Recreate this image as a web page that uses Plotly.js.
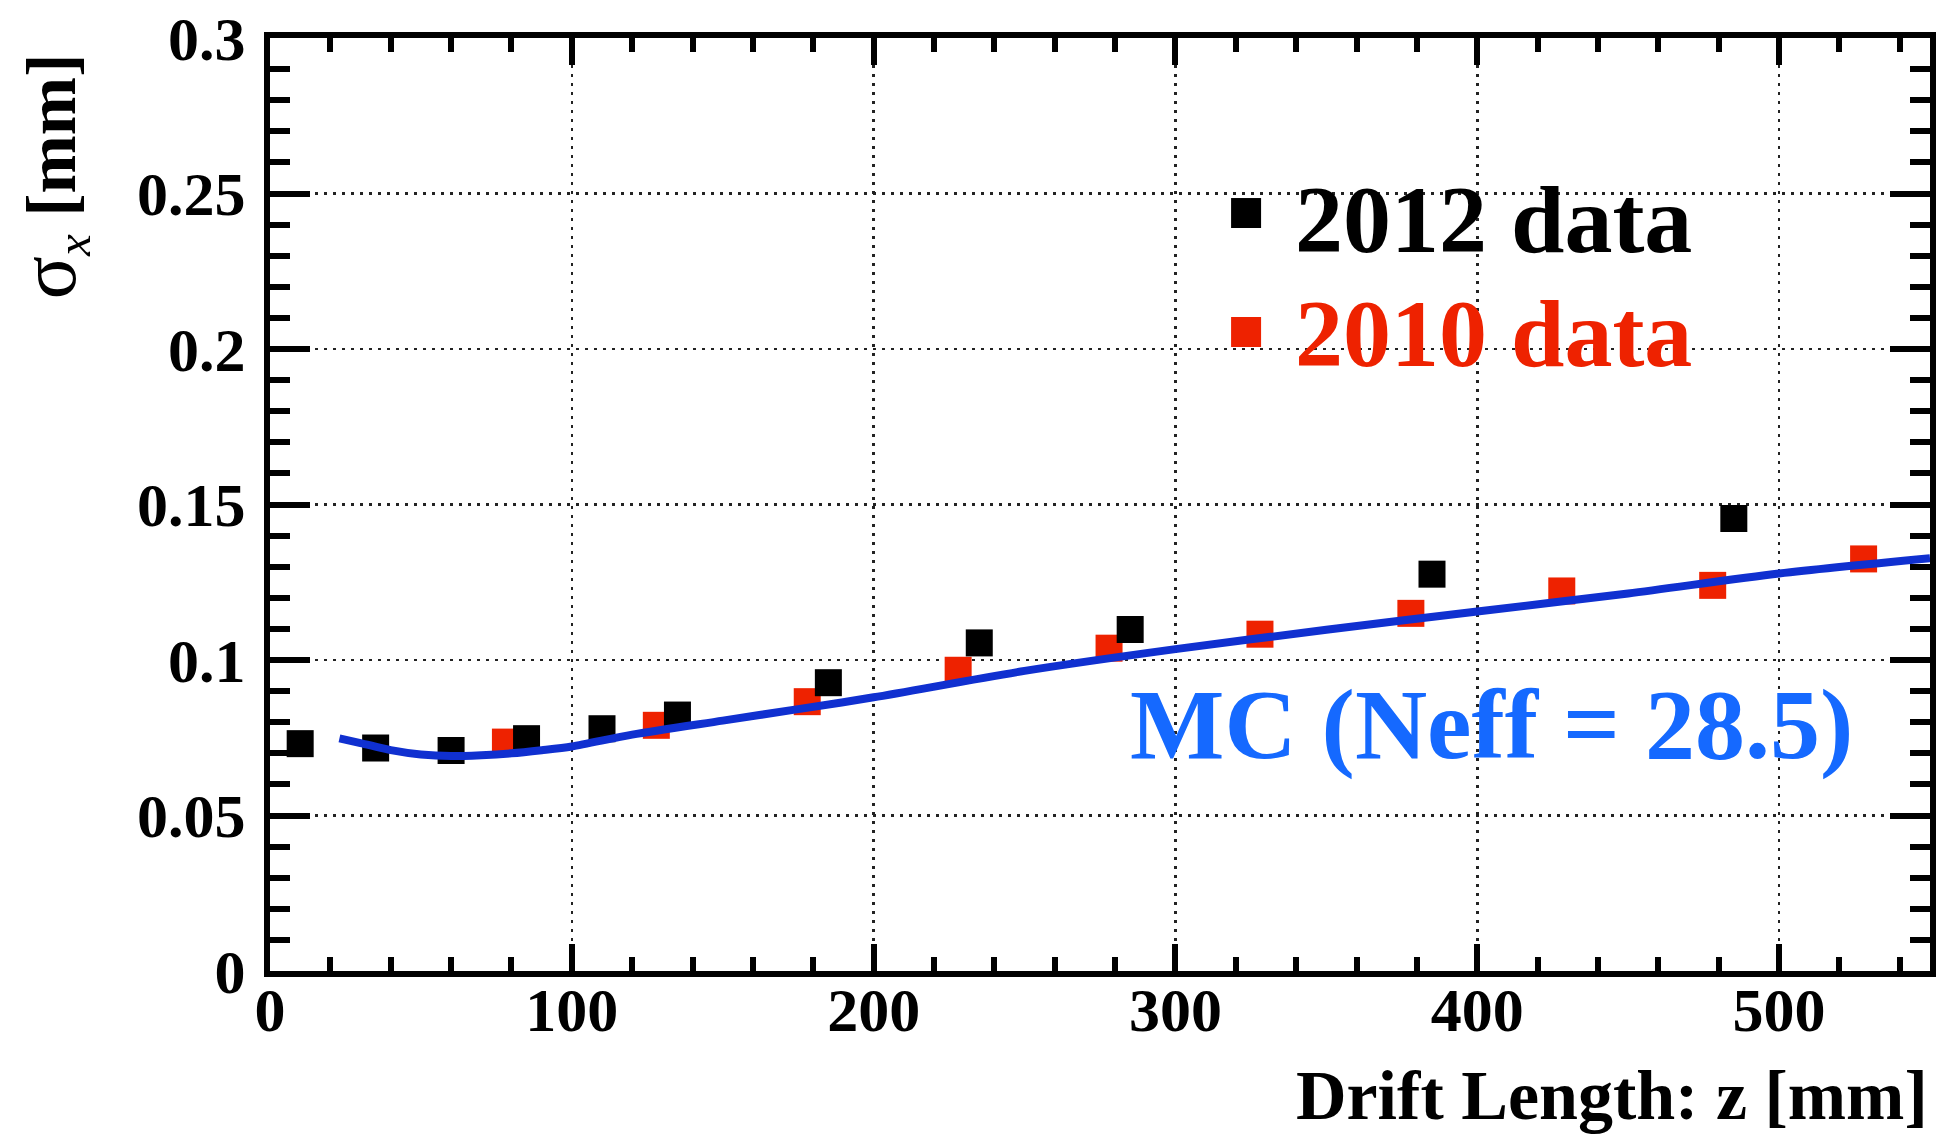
<!DOCTYPE html>
<html>
<head>
<meta charset="utf-8">
<script src="https://cdn.plot.ly/plotly-3.0.1.min.js"></script>
<style>
  html, body { margin: 0; padding: 0; background: #fff; }
  #chart { width: 1940px; height: 1137px; }
</style>
</head>
<body>
<div id="chart"></div>
<script>
// Transverse resolution vs drift length
const z2012 = [10, 35, 60, 85, 110, 135, 185, 235, 285, 385, 485];
const sigma2012 = [0.0731, 0.0717, 0.0709, 0.0747, 0.0779, 0.0823, 0.0927, 0.1055, 0.1098, 0.1276, 0.1455];

const z2010 = [78, 128, 178, 228, 278, 328, 378, 428, 478, 528];
const sigma2010 = [0.0736, 0.0790, 0.0866, 0.0967, 0.1038, 0.1083, 0.1150, 0.1222, 0.1240, 0.1325];

const zMC = [23, 30, 40, 50, 60, 70, 80, 90, 100, 120, 150, 175, 200, 250, 300, 350, 400, 450, 500, 550];
const sigmaMC = [0.0748, 0.0733, 0.0710, 0.0696, 0.0691, 0.0694, 0.0700, 0.0710, 0.0722, 0.0760, 0.0805, 0.0842, 0.0880, 0.0965, 0.1035, 0.1097, 0.1156, 0.1214, 0.1278, 0.1327];

const xTicks = [0, 100, 200, 300, 400, 500];
const yTicks = [0, 0.05, 0.1, 0.15, 0.2, 0.25, 0.3];

const serif = '"Liberation Serif", "Times New Roman", serif';
const RED = '#ee2200';
const BLUE_LINE = '#1030d0';
const BLUE_TEXT = '#1569ff';

const traces = [
  {
    x: z2010, y: sigma2010, type: 'scatter', mode: 'markers', name: '2010 data',
    marker: { symbol: 'square', size: 27, color: RED, line: { width: 0 } }
  },
  {
    x: z2012, y: sigma2012, type: 'scatter', mode: 'markers', name: '2012 data',
    marker: { symbol: 'square', size: 27, color: '#000', line: { width: 0 } }
  },
  {
    x: zMC, y: sigmaMC, type: 'scatter', mode: 'lines', name: 'MC',
    line: { color: BLUE_LINE, width: 8, shape: 'spline', smoothing: 0.8 }
  }
];

const axisCommon = {
  showline: true, linecolor: '#000', linewidth: 6, mirror: 'ticks',
  ticks: 'inside', tickcolor: '#000', tickwidth: 6,
  showgrid: true, gridcolor: '#222', gridwidth: 2.5, griddash: '3px,6px',
  zeroline: false, tickfont: { family: serif, size: 62, color: '#000', weight: 'bold' }
};

const layout = {
  width: 1940, height: 1137,
  margin: { l: 270, r: 10, t: 38, b: 166 },
  paper_bgcolor: '#fff', plot_bgcolor: '#fff',
  showlegend: false,
  xaxis: Object.assign({}, axisCommon, {
    range: [0, 550], tickmode: 'array', tickvals: xTicks, ticklen: 27,
    minor: { dtick: 20, ticks: 'inside', ticklen: 14, tickwidth: 6, tickcolor: '#000', showgrid: false },
    ticklabelstandoff: -20
  }),
  yaxis: Object.assign({}, axisCommon, {
    range: [0, 0.3], tickmode: 'array', tickvals: yTicks, ticklen: 40,
    minor: { dtick: 0.01, ticks: 'inside', ticklen: 20, tickwidth: 6, tickcolor: '#000', showgrid: false },
    ticklabelstandoff: 6
  }),
  annotations: [
    { xref: 'paper', yref: 'paper', x: -0.1313, y: 0.852, xanchor: 'center', yanchor: 'middle',
      textangle: -90, showarrow: false,
      text: '<span style="font-size:80px">σ</span><sub><i>x</i></sub> <b>[mm]</b>',
      font: { family: serif, size: 70, color: '#000' } },
    { xref: 'paper', yref: 'paper', x: 1.0, y: -0.133, xanchor: 'right', yanchor: 'middle',
      showarrow: false, text: '<b>Drift Length: z [mm]</b>',
      font: { family: serif, size: 70, color: '#000' } },
    { xref: 'paper', yref: 'paper', x: 0.6163, y: 0.805, xanchor: 'left', yanchor: 'middle',
      showarrow: false, text: '<b>2012 data</b>',
      font: { family: serif, size: 96, color: '#000' } },
    { xref: 'paper', yref: 'paper', x: 0.6163, y: 0.683, xanchor: 'left', yanchor: 'middle',
      showarrow: false, text: '<b>2010 data</b>',
      font: { family: serif, size: 96, color: RED } },
    { xref: 'paper', yref: 'paper', x: 0.517, y: 0.2647, xanchor: 'left', yanchor: 'middle',
      showarrow: false, text: '<b>MC (Neff = 28.5)</b>',
      font: { family: serif, size: 100, color: BLUE_TEXT } }
  ],
  shapes: [
    { type: 'rect', xref: 'paper', yref: 'paper', xsizemode: 'pixel', ysizemode: 'pixel',
      xanchor: 0.588, yanchor: 0.8124, x0: -15, x1: 15, y0: -15, y1: 15,
      fillcolor: '#000', line: { width: 0 } },
    { type: 'rect', xref: 'paper', yref: 'paper', xsizemode: 'pixel', ysizemode: 'pixel',
      xanchor: 0.588, yanchor: 0.6849, x0: -15, x1: 15, y0: -15, y1: 15,
      fillcolor: RED, line: { width: 0 } }
  ]
};

Plotly.newPlot('chart', traces, layout, { staticPlot: true, displayModeBar: false });
</script>
</body>
</html>
